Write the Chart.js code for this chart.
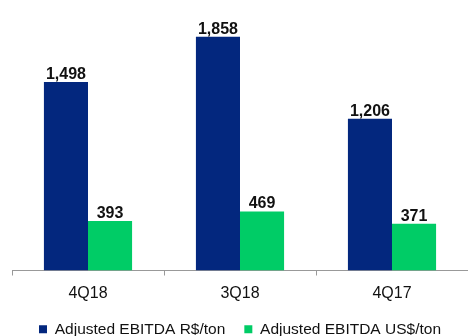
<!DOCTYPE html>
<html>
<head>
<meta charset="utf-8">
<script src="https://cdn.jsdelivr.net/npm/chart.js@4"></script>
<style>
  html, body { margin: 0; padding: 0; background: #fff; }
  #wrap { width: 468px; height: 336px; position: relative; }
</style>
</head>
<body>
<div id="wrap"><canvas id="chart"></canvas></div>
<script>
const quarters = ['4Q18', '3Q18', '4Q17'];
const ebitdaBrl = [1498, 1858, 1206];
const ebitdaUsd = [393, 469, 371];
const seriesNames = ['Adjusted EBITDA R$/ton', 'Adjusted EBITDA US$/ton'];

const fontFamily = '"Liberation Sans", Arial, sans-serif';

// small inline plugin for the value labels on top of the bars
const valueLabels = {
    id: 'valueLabels',
    afterDatasetsDraw(chart) {
        const ctx = chart.ctx;
        ctx.save();
        ctx.font = 'bold 16px ' + fontFamily;
        ctx.fillStyle = '#111';
        ctx.textAlign = 'center';
        ctx.textBaseline = 'alphabetic';
        chart.data.datasets.forEach((ds, i) => {
            chart.getDatasetMeta(i).data.forEach((bar, j) => {
                ctx.fillText(ds.data[j].toLocaleString('en-US'), bar.x, bar.y - 3);
            });
        });
        ctx.restore();
    }
};

new Chart(document.getElementById('chart'), {
    type: 'bar',
    data: {
        labels: quarters,
        datasets: [
            {
                label: seriesNames[0],
                data: ebitdaBrl,
                backgroundColor: '#03277E',
                barPercentage: 1,
                categoryPercentage: 0.58
            },
            {
                label: seriesNames[1],
                data: ebitdaUsd,
                backgroundColor: '#00CC66',
                barPercentage: 1,
                categoryPercentage: 0.58
            }
        ]
    },
    options: {
        responsive: true,
        maintainAspectRatio: false,
        animation: false,
        // legend sits very low in the original, hence the negative bottom padding
        layout: { padding: { left: 12, right: 0, top: 0, bottom: -11 } },
        scales: {
            x: {
                grid: {
                    offset: true,
                    drawOnChartArea: false,
                    drawTicks: true,
                    tickLength: 5,
                    color: '#999'
                },
                border: { display: true, color: '#999' },
                ticks: {
                    color: '#111',
                    padding: 8,
                    font: { family: fontFamily, size: 16 }
                },
                afterFit(scale) { scale.height = 32; }
            },
            y: {
                display: false,
                beginAtZero: true,
                max: 2150
            }
        },
        plugins: {
            legend: {
                position: 'bottom',
                labels: {
                    boxWidth: 8,
                    boxHeight: 8,
                    padding: 19,
                    color: '#111',
                    font: { family: fontFamily, size: 15.5 }
                }
            },
            tooltip: { enabled: false }
        }
    },
    plugins: [valueLabels]
});
</script>
</body>
</html>
